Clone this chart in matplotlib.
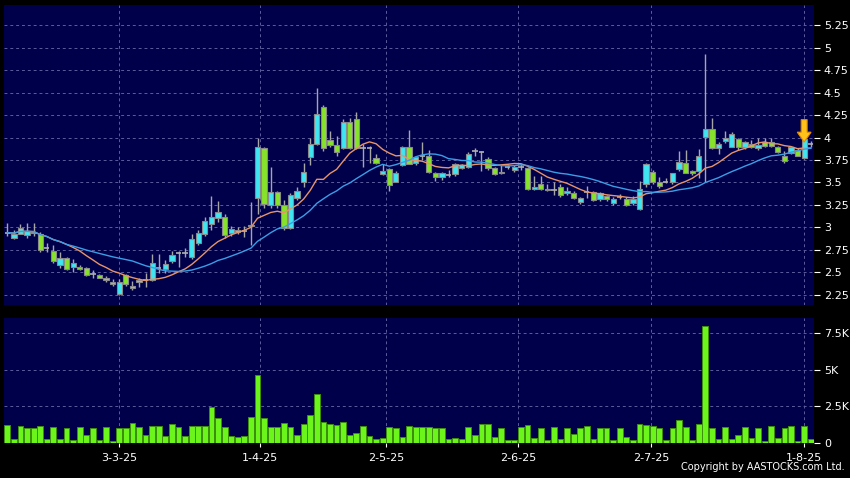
import numpy as np
import pandas as pd
import matplotlib
matplotlib.use("Agg")
import matplotlib.pyplot as plt
from matplotlib.patches import Polygon
from matplotlib.ticker import FuncFormatter


# Daily OHLC (one entry per trading day)
opens = [2.94, 2.88, 2.93, 2.91, 2.95, 2.93, 2.77, 2.73, 2.58, 2.66,
         2.56, 2.56, 2.55, 2.48, 2.47, 2.44, 2.39, 2.26, 2.47, 2.34,
         2.39, 2.41, 2.41, 2.55, 2.54, 2.62, 2.71, 2.71, 2.67, 2.83,
         2.93, 3.04, 3.10, 3.11, 2.94, 2.97, 2.96, 3.01, 3.33, 3.88,
         3.25, 3.39, 3.25, 2.99, 3.33, 3.50, 3.78, 3.93, 4.34, 3.97,
         3.92, 3.88, 4.17, 4.21, 3.88, 3.88, 3.77, 3.59, 3.65, 3.51,
         3.69, 3.89, 3.72, 3.79, 3.80, 3.61, 3.56, 3.58, 3.59, 3.66,
         3.67, 3.85, 3.84, 3.76, 3.66, 3.60, 3.67, 3.64, 3.67, 3.66,
         3.43, 3.48, 3.43, 3.41, 3.45, 3.38, 3.38, 3.28, 3.39, 3.39,
         3.31, 3.35, 3.27, 3.34, 3.32, 3.27, 3.20, 3.48, 3.62, 3.50,
         3.51, 3.50, 3.65, 3.72, 3.63, 3.63, 4.01, 4.09, 3.88, 3.96,
         3.90, 3.98, 3.90, 3.93, 3.88, 3.95, 3.95, 3.90, 3.80, 3.83,
         3.86, 3.77, 3.93]
closes = [2.94, 2.93, 2.99, 2.96, 2.94, 2.75, 2.77, 2.62, 2.66, 2.53,
          2.60, 2.54, 2.47, 2.48, 2.44, 2.41, 2.37, 2.39, 2.37, 2.32,
          2.41, 2.41, 2.60, 2.55, 2.59, 2.69, 2.71, 2.71, 2.87, 2.94,
          3.07, 3.11, 3.17, 2.91, 2.98, 2.95, 2.96, 3.03, 3.89, 3.26,
          3.39, 3.25, 2.99, 3.36, 3.40, 3.62, 3.93, 4.26, 3.88, 3.92,
          3.84, 4.17, 3.88, 3.88, 3.88, 3.88, 3.72, 3.63, 3.47, 3.61,
          3.89, 3.71, 3.78, 3.79, 3.62, 3.56, 3.61, 3.58, 3.70, 3.69,
          3.82, 3.85, 3.84, 3.66, 3.59, 3.62, 3.67, 3.67, 3.67, 3.43,
          3.45, 3.43, 3.41, 3.41, 3.36, 3.40, 3.33, 3.33, 3.39, 3.30,
          3.38, 3.31, 3.32, 3.34, 3.25, 3.32, 3.43, 3.70, 3.50, 3.46,
          3.51, 3.60, 3.73, 3.61, 3.60, 3.80, 4.09, 3.88, 3.93, 3.99,
          4.04, 3.90, 3.95, 3.90, 3.92, 3.91, 3.91, 3.84, 3.74, 3.89,
          3.80, 3.98, 3.93]
highs = [3.05, 2.97, 3.04, 3.05, 3.05, 2.95, 2.83, 2.80, 2.72, 2.67,
         2.65, 2.58, 2.56, 2.52, 2.48, 2.46, 2.42, 2.42, 2.48, 2.40,
         2.43, 2.49, 2.70, 2.70, 2.63, 2.74, 2.73, 2.77, 2.92, 2.97,
         3.12, 3.35, 3.29, 3.15, 3.01, 3.00, 3.01, 3.28, 3.99, 3.89,
         3.67, 3.40, 3.30, 3.38, 3.45, 3.72, 3.99, 4.55, 4.36, 4.07,
         4.02, 4.21, 4.22, 4.29, 3.93, 3.91, 3.82, 3.71, 3.66, 3.63,
         3.91, 4.08, 3.80, 3.95, 3.86, 3.62, 3.62, 3.64, 3.72, 3.71,
         3.84, 3.88, 3.85, 3.78, 3.67, 3.69, 3.70, 3.69, 3.70, 3.67,
         3.57, 3.57, 3.48, 3.50, 3.48, 3.45, 3.40, 3.34, 3.46, 3.40,
         3.39, 3.36, 3.34, 3.37, 3.34, 3.35, 3.52, 3.72, 3.64, 3.56,
         3.55, 3.61, 3.85, 3.86, 3.64, 3.87, 4.93, 4.22, 3.95, 4.07,
         4.06, 4.00, 3.96, 3.97, 4.00, 3.99, 4.00, 3.91, 3.85, 3.90,
         3.88, 3.99, 3.96]
lows = [2.90, 2.87, 2.92, 2.88, 2.90, 2.72, 2.72, 2.60, 2.55, 2.52,
        2.50, 2.52, 2.46, 2.44, 2.43, 2.39, 2.34, 2.24, 2.34, 2.30,
        2.33, 2.33, 2.40, 2.49, 2.49, 2.60, 2.56, 2.67, 2.65, 2.80,
        2.90, 2.97, 3.06, 2.88, 2.90, 2.92, 2.89, 2.80, 3.15, 3.22,
        3.22, 3.22, 2.97, 2.98, 3.30, 3.45, 3.69, 3.92, 3.85, 3.89,
        3.80, 3.87, 3.87, 3.87, 3.67, 3.72, 3.71, 3.58, 3.40, 3.50,
        3.68, 3.70, 3.69, 3.75, 3.61, 3.52, 3.53, 3.56, 3.57, 3.65,
        3.66, 3.80, 3.63, 3.64, 3.58, 3.59, 3.65, 3.62, 3.64, 3.42,
        3.42, 3.42, 3.40, 3.36, 3.34, 3.36, 3.31, 3.26, 3.33, 3.29,
        3.29, 3.29, 3.25, 3.32, 3.24, 3.25, 3.19, 3.45, 3.48, 3.44,
        3.49, 3.48, 3.63, 3.60, 3.58, 3.55, 3.50, 3.87, 3.82, 3.94,
        3.89, 3.86, 3.87, 3.88, 3.86, 3.89, 3.89, 3.83, 3.72, 3.82,
        3.79, 3.76, 3.90]
# volume in thousands
volumes = [1.22, 0.27, 1.15, 1.06, 1.06, 1.15, 0.32, 1.10, 0.27, 1.06,
           0.20, 1.10, 0.54, 1.06, 0.25, 1.10, 0.14, 1.06, 1.06, 1.40,
           1.10, 0.54, 1.17, 1.19, 0.47, 1.28, 1.13, 0.51, 1.15, 1.15,
           1.19, 2.45, 1.69, 1.08, 0.49, 0.45, 0.47, 1.80, 4.66, 1.71,
           1.13, 1.08, 1.35, 1.13, 0.54, 1.33, 1.89, 3.36, 1.42, 1.33,
           1.22, 1.42, 0.56, 0.67, 1.19, 0.47, 0.32, 0.34, 1.08, 1.06,
           0.45, 1.15, 1.08, 1.08, 1.10, 1.06, 1.06, 0.32, 0.36, 0.32,
           1.10, 0.54, 1.28, 1.33, 0.43, 1.04, 0.20, 0.20, 1.10, 1.22,
           0.36, 1.06, 0.25, 1.10, 0.32, 1.06, 0.61, 1.06, 1.15, 0.29,
           1.06, 1.06, 0.20, 1.01, 0.43, 0.20, 1.28, 1.22, 1.15, 1.06,
           0.20, 1.06, 1.56, 1.10, 0.20, 1.33, 7.97, 1.06, 0.27, 1.10,
           0.27, 0.54, 1.10, 0.36, 1.06, 0.18, 1.15, 0.34, 1.06, 1.19,
           0.14, 1.15, 0.32]

date_labels = ['3-3-25', '1-4-25', '2-5-25', '2-6-25', '2-7-25', '1-8-25']
date_pos = [17, 38.35, 57.5, 77.6, 97.8, 121]
price_ticks = [2.25, 2.5, 2.75, 3, 3.25, 3.5, 3.75, 4, 4.25, 4.5, 4.75, 5, 5.25]
vol_ticks = [0, 2.5, 5, 7.5]

NAVY = '#00004a'
GRID = '#5c5c9c'
UP = '#3ee6f2'
DOWN = '#86e32a'

o = np.array(opens)
c = np.array(closes)
h = np.array(highs)
l = np.array(lows)
idx = np.arange(len(c))

ma10 = pd.Series(c).rolling(10, min_periods=1).mean()
ma20 = pd.Series(c).rolling(20, min_periods=1).mean()

fig = plt.figure(figsize=(8.5, 4.78), dpi=100, facecolor='black')
ax = fig.add_axes([0.0047, 0.362, 0.953, 0.628], facecolor=NAVY)
axv = fig.add_axes([0.0047, 0.0726, 0.953, 0.262], facecolor=NAVY, sharex=ax)

for a in (ax, axv):
    for s in a.spines.values():
        s.set_visible(False)
    a.set_xticks(date_pos)
    a.grid(True, color=GRID, linestyle=(0, (3, 3)), linewidth=0.7)
    a.set_axisbelow(True)
    a.yaxis.tick_right()
    a.tick_params(axis='y', colors='white', labelsize=8, length=4, width=0.8, pad=3)

# candles
ax.vlines(idx, l, h, color='#a6a6a6', linewidth=1, zorder=2)
doji = np.abs(c - o) < 0.005
body_col = np.where(c >= o, UP, DOWN)
nd = ~doji
ax.bar(idx[nd], np.abs(c - o)[nd], bottom=np.minimum(o, c)[nd], width=0.8,
       color=body_col[nd], edgecolor='#8a8a8a', linewidth=0.8, zorder=3)
ax.hlines(c[doji], idx[doji] - 0.4, idx[doji] + 0.4, color='#b0b0b0',
          linewidth=1.2, zorder=3)

ax.plot(idx, ma10, color='#e89468', linewidth=1, zorder=4)
ax.plot(idx, ma20, color='#3a9ee6', linewidth=1, zorder=4)

# marker arrow over the last up candle
last = len(c) - 2
ax_arrow = Polygon([[last - 0.45, 4.20], [last + 0.45, 4.20], [last + 0.45, 4.06],
                    [last + 1.05, 4.06], [last, 3.95], [last - 1.05, 4.06],
                    [last - 0.45, 4.06]],
                   closed=True, facecolor='#ffc21a', edgecolor='#e08a00',
                   linewidth=0.8, zorder=5)
ax.add_patch(ax_arrow)

ax.set_xlim(-0.5, len(c) - 0.5)
ax.set_ylim(2.134, 5.48)
ax.set_yticks(price_ticks)
ax.yaxis.set_major_formatter(FuncFormatter(lambda v, p: ('%.2f' % v).rstrip('0').rstrip('.')))
ax.tick_params(axis='x', length=0, labelbottom=False)

# volume
axv.bar(idx, volumes, width=0.88, color='#6cf51a', edgecolor='#3d8f10',
        linewidth=0.7, zorder=3)
axv.set_ylim(0, 8.49)
axv.set_yticks(vol_ticks)
axv.yaxis.set_major_formatter(FuncFormatter(lambda v, p: '0' if v == 0 else ('%g' % v) + 'K'))
axv.set_xticklabels(date_labels)
axv.tick_params(axis='x', colors='white', labelsize=8, length=3, width=0.8, pad=4)

fig.text(0.994, 0.012, 'Copyright by AASTOCKS.com Ltd.', color='white',
         fontsize=7, ha='right', va='bottom')

fig.savefig('out.png', dpi=100, facecolor='black')
